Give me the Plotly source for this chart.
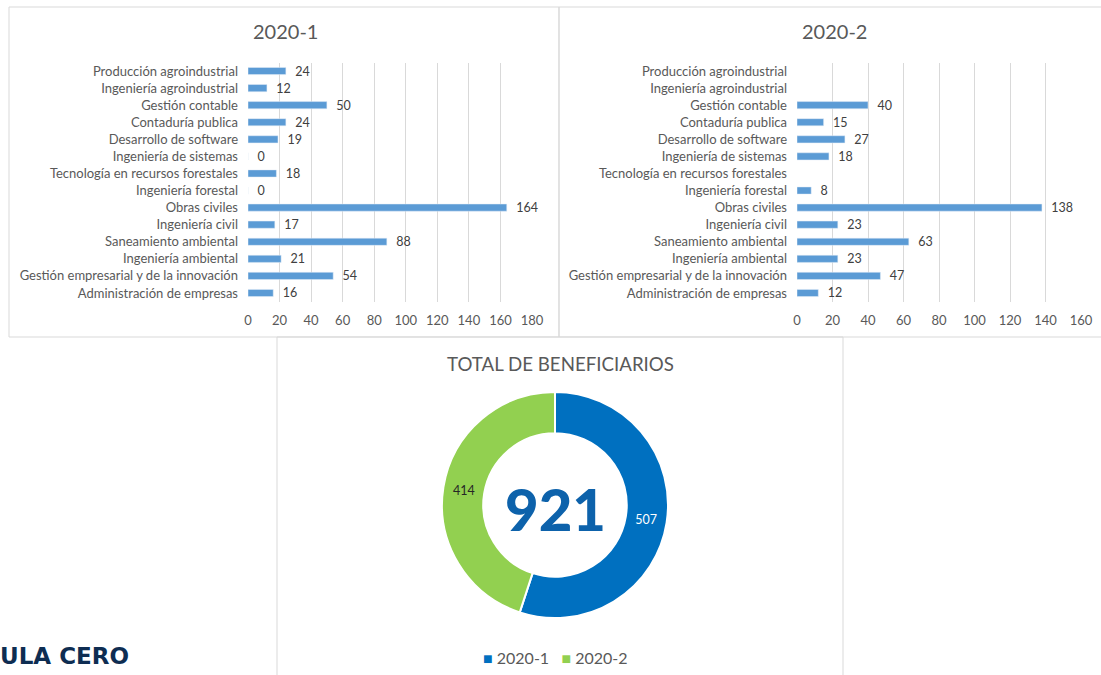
import plotly.graph_objects as go

W, H = 1101, 675

categories = [
    "Producción agroindustrial",
    "Ingeniería agroindustrial",
    "Gestión contable",
    "Contaduría publica",
    "Desarrollo de software",
    "Ingeniería de sistemas",
    "Tecnología en recursos forestales",
    "Ingeniería forestal",
    "Obras civiles",
    "Ingeniería civil",
    "Saneamiento ambiental",
    "Ingeniería ambiental",
    "Gestión empresarial y de la innovación",
    "Administración de empresas",
]
values_2020_1 = [24, 12, 50, 24, 19, 0, 18, 0, 164, 17, 88, 21, 54, 16]
values_2020_2 = [None, None, 40, 15, 27, 18, None, 8, 138, 23, 63, 23, 47, 12]

ticks_1 = [0, 20, 40, 60, 80, 100, 120, 140, 160, 180]
ticks_2 = [0, 20, 40, 60, 80, 100, 120, 140, 160]

period_labels = ["2020-1", "2020-2"]
period_totals = [507, 414]
grand_total = 921
pie_colors = ["#0070C0", "#92D050"]

BAR = "#5B9BD5"
GRID = "#d9d9d9"
TXT = "#595959"
FONT = "Lato"
PAD = "\u00a0\u00a0"


def px_x(p):
    return p / W


def px_y(p):
    return 1 - p / H


def bar_text(vals):
    return ["" if v is None else PAD + str(v) for v in vals]


fig = go.Figure()

fig.add_trace(go.Bar(
    x=values_2020_1, y=categories, orientation="h",
    marker_color=BAR, width=0.42,
    text=bar_text(values_2020_1), textposition="outside", constraintext="none",
    textfont=dict(family=FONT, size=12.5, color="#404040"),
    cliponaxis=False, showlegend=False, hoverinfo="x+y",
    xaxis="x", yaxis="y",
))
fig.add_trace(go.Bar(
    x=values_2020_2, y=categories, orientation="h",
    marker_color=BAR, width=0.42,
    text=bar_text(values_2020_2), textposition="outside", constraintext="none",
    textfont=dict(family=FONT, size=12.5, color="#404040"),
    cliponaxis=False, showlegend=False, hoverinfo="x+y",
    xaxis="x2", yaxis="y2",
))

fig.add_trace(go.Pie(
    labels=period_labels, values=period_totals,
    hole=0.635, sort=False, direction="clockwise", rotation=0,
    marker=dict(colors=pie_colors, line=dict(color="white", width=2)),
    textinfo="value", textposition="inside", insidetextorientation="horizontal",
    textfont=dict(family=FONT, size=12.5, color=["white", "#262626"]),
    domain=dict(x=[px_x(442), px_x(668)], y=[px_y(618), px_y(392)]),
    showlegend=False,
))

axis_common = dict(
    showgrid=True, gridcolor=GRID, gridwidth=1, zeroline=False, automargin=False,
    showline=False, ticks="", fixedrange=True, ticklabelstandoff=9,
    tickfont=dict(family=FONT, size=13, color=TXT),
)
yax_common = dict(
    categoryorder="array", categoryarray=categories, autorange="reversed", automargin=False,
    showgrid=False, zeroline=False, showline=False, ticks="", fixedrange=True,
    tickfont=dict(family=FONT, size=13, color=TXT), ticklabelstandoff=9,
)

y_dom = [px_y(301.5), px_y(62.5)]

fig.update_layout(
    width=W, height=H, autosize=False,
    margin=dict(l=0, r=0, t=0, b=0, pad=0, autoexpand=False),
    paper_bgcolor="white", plot_bgcolor="white",
    xaxis=dict(domain=[px_x(248), px_x(532)], range=[0, 180], tickvals=ticks_1,
               anchor="y", **axis_common),
    yaxis=dict(domain=y_dom, anchor="x", **yax_common),
    xaxis2=dict(domain=[px_x(797), px_x(1081)], range=[0, 160], tickvals=ticks_2,
                anchor="y2", **axis_common),
    yaxis2=dict(domain=y_dom, anchor="x2", **yax_common),
    showlegend=False,
)

shapes = [
    dict(type="rect", xref="paper", yref="paper", x0=px_x(9), x1=px_x(559), y0=px_y(337), y1=px_y(7),
         line=dict(color=GRID, width=1)),
    dict(type="rect", xref="paper", yref="paper", x0=px_x(559), x1=px_x(1110), y0=px_y(337), y1=px_y(7),
         line=dict(color=GRID, width=1)),
    dict(type="rect", xref="paper", yref="paper", x0=px_x(277), x1=px_x(843), y0=px_y(690), y1=px_y(337),
         line=dict(color=GRID, width=1)),
]
fig.update_layout(shapes=shapes)

legend_text = "<span style='color:%s'>■</span> %s   <span style='color:%s'>■</span> %s" % (
    pie_colors[0], period_labels[0], pie_colors[1], period_labels[1])

annotations = [
    dict(text="2020-1", x=px_x(285), y=px_y(31), xref="paper", yref="paper", showarrow=False,
         font=dict(family=FONT, size=20, color=TXT), xanchor="center", yanchor="middle"),
    dict(text="2020-2", x=px_x(834), y=px_y(31), xref="paper", yref="paper", showarrow=False,
         font=dict(family=FONT, size=20, color=TXT), xanchor="center", yanchor="middle"),
    dict(text="TOTAL DE BENEFICIARIOS", x=px_x(560), y=px_y(364), xref="paper", yref="paper",
         showarrow=False, font=dict(family=FONT, size=18.7, color=TXT), xanchor="center", yanchor="middle"),
    dict(text="%d" % grand_total, x=px_x(555), y=px_y(508), xref="paper", yref="paper",
         showarrow=False, font=dict(family=FONT, size=58, color="#0d62ab", weight=900),
         xanchor="center", yanchor="middle"),
    dict(text=legend_text, x=px_x(555), y=px_y(657), xref="paper", yref="paper",
         showarrow=False, font=dict(family=FONT, size=16, color=TXT),
         xanchor="center", yanchor="middle"),
    dict(text="<b>ULA CERO</b>", x=px_x(-2), y=px_y(656), xref="paper", yref="paper",
         showarrow=False, font=dict(family="DejaVu Sans", size=23, color="#0e2d52"),
         xanchor="left", yanchor="middle"),
]
fig.update_layout(annotations=annotations)

fig.write_html(
    "out.html",
    config={"displayModeBar": False, "responsive": False},
    post_script="document.body.style.margin='0';document.body.style.overflow='hidden';",
)
